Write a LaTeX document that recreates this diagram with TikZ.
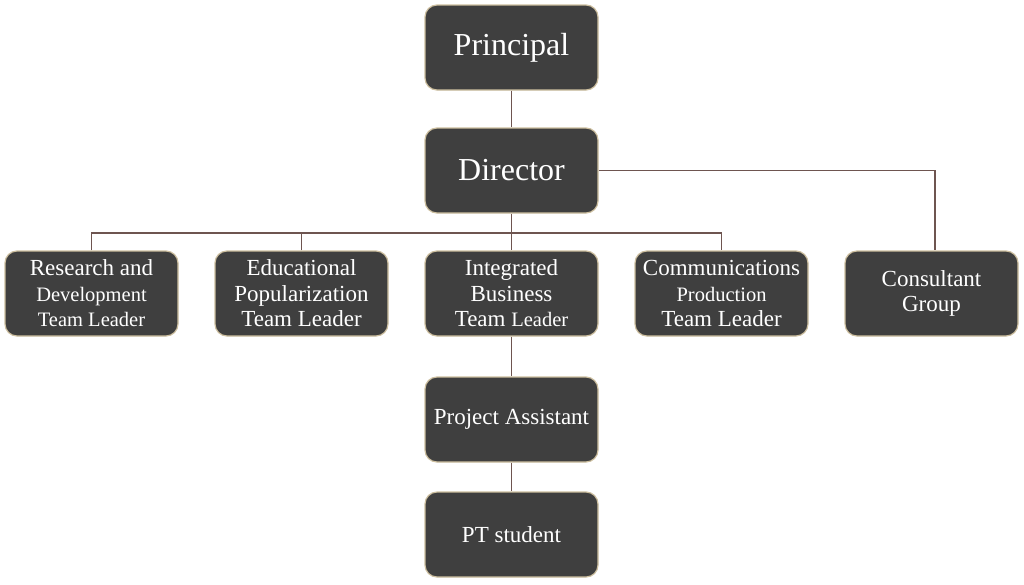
\documentclass[tikz,border=0pt]{standalone}
\usepackage{fontspec}
\setmainfont{Liberation Serif}
\usepackage{tikz}

\definecolor{boxfill}{HTML}{3F3F3F}
\definecolor{boxedge}{HTML}{CDBF9F}
\definecolor{linkcol}{HTML}{6E5550}

\newcommand{\smtxt}[1]{{\fontsize{20.5}{25.5}\selectfont #1}}

\tikzset{
    box/.style={draw=boxedge, fill=boxfill, line width=1.2pt, rounded corners=12pt,
        minimum width=173pt, minimum height=85pt, text=white, align=center,
        inner sep=2pt, font=\fontsize{23}{25.5}\selectfont},
    bigbox/.style={box, font=\fontsize{32}{36}\selectfont},
    link/.style={draw=linkcol, line width=1.1pt}
}

\begin{document}
\begin{tikzpicture}[x=1pt, y=-1pt]
            \fill[white] (0,0) rectangle (1024,584);
            \node[bigbox] (prin) at (511.5,47.5) {Principal};
            \node[bigbox] (dir) at (511.5,170.5) {Director};
            \node[box] (rd) at (91.5,293.5) {Research and\\\smtxt{Development}\\\smtxt{Team Leader}};
            \node[box] (edu) at (301.5,293.5) {Educational\\Popularization\\Team Leader};
            \node[box] (ibt) at (511.5,293.5) {Integrated\\Business\\Team \smtxt{Leader}};
            \node[box] (comm) at (721.5,293.5) {Communications\\\smtxt{Production}\\Team Leader};
            \node[box] (cons) at (931.5,293.5) {Consultant\\Group};
            \node[box] (pa) at (511.5,419.5) {Project Assistant};
            \node[box] (pt) at (511.5,534.5) {PT student};
            \coordinate (bus) at (511.5,233);
            \coordinate (bend) at (935,170.5);
            % connectors
            \draw[link] (prin) -- (dir);
            \draw[link] (dir) -- (ibt);
            \draw[link] (rd.north) |- (bus) -| (comm.north);
            \draw[link] (edu.north) -- (edu.north |- bus);
            \draw[link] (dir.east) -- (bend) -- (bend |- cons.north);
            \draw[link] (ibt) -- (pa);
            \draw[link] (pa) -- (pt);
        \end{tikzpicture}
\end{document}
